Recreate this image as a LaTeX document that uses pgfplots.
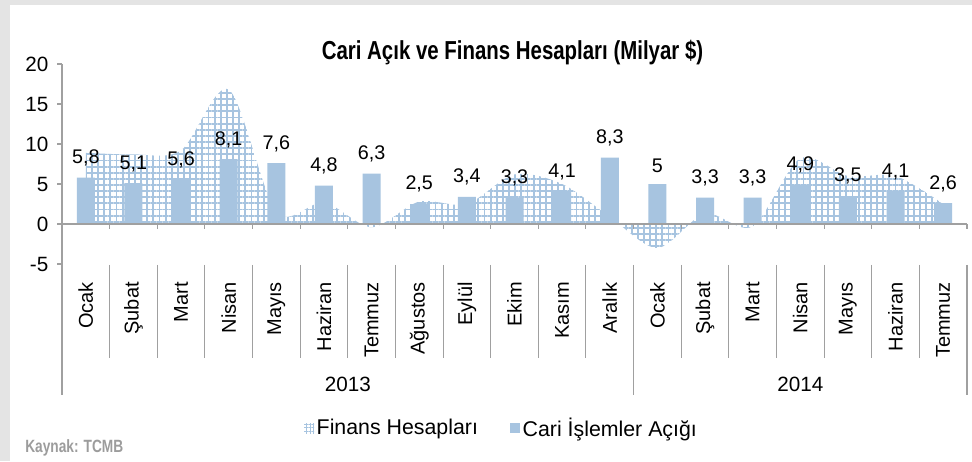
\documentclass[border=0pt]{standalone}
\usepackage{pgfplots}
\pgfplotsset{compat=1.18}
\usepackage{pgfplotstable}
\usepackage{graphicx}
\usepackage{fontspec}
\setmainfont{Liberation Sans}
\usetikzlibrary{patterns.meta}
\definecolor{barblue}{HTML}{A7C4E0}
\definecolor{axisgray}{HTML}{A0A0A0}
\definecolor{framegray}{HTML}{E4E4E4}
\definecolor{srcgray}{HTML}{9C9C9C}

\pgfplotstableread{
x y lab
0 5.8 5,8
1 5.1 5,1
2 5.6 5,6
3 8.1 8,1
4 7.6 7,6
5 4.8 4,8
6 6.3 6,3
7 2.5 2,5
8 3.4 3,4
9 3.3 3,3
10 4.1 4,1
11 8.3 8,3
12 5.0 5
13 3.3 3,3
14 3.3 3,3
15 4.9 4,9
16 3.5 3,5
17 4.1 4,1
18 2.6 2,6
}\bardata

\pgfplotstableread{
x y
0 8.9
1 8.7
2 9.2
3 16.8
4 1.5
5 2.7
6 -0.4
7 2.8
8 2.5
9 6.2
10 5.0
11 0.9
12 -3.0
13 1.3
14 -0.3
15 8.2
16 6.0
17 6.0
18 2.5
}\findata

\begin{document}
\begin{tikzpicture}
\fill[white] (0,0) rectangle (729pt,345.75pt);
\fill[framegray] (0,0) rectangle (7.5pt,345.75pt);
\fill[framegray] (0,342pt) rectangle (729pt,345.75pt);
\begin{axis}[
  at={(46.5pt,147.75pt)}, anchor=south west,
  scale only axis, width=678.75pt, height=150pt,
  xmin=-0.5, xmax=18.5, ymin=-5, ymax=20,
  axis line style={draw=none},
  clip=false,
  ytick={-5,0,5,10,15,20},
  yticklabels={-5,0,5,10,15,20},
  ytick pos=left,
  ytick style={axisgray, line width=0.8pt},
  tick align=outside,
  major tick length=3.75pt,
  yticklabel style={font=\fontsize{15.5}{18}\selectfont},
  yticklabel shift=3pt,
  xtick={0,...,18},
  xtick pos=bottom,
  xtick style={draw=none},
  xticklabels={Ocak,Şubat,Mart,Nisan,Mayıs,Haziran,Temmuz,Ağustos,Eylül,Ekim,Kasım,Aralık,Ocak,Şubat,Mart,Nisan,Mayıs,Haziran,Temmuz},
  xticklabel style={rotate=90, anchor=east, inner sep=0pt, font=\fontsize{15}{18}\selectfont},
  xticklabel shift=9.75pt,
  legend style={at={(0.486,-0.82)}, anchor=center, draw=none, fill=none,
    legend columns=2, font=\fontsize{16}{19}\selectfont,
    /tikz/every even column/.append style={column sep=22pt}},
]
\addplot[draw=none, pattern={Hatch[angle=0,distance=4.6pt,line width=1.4pt]}, pattern color=barblue, smooth,
  legend image code/.code={\fill[pattern={Hatch[angle=0,distance=2.5pt,line width=0.6pt]}, pattern color=barblue] (0pt,-3.75pt) rectangle (7.5pt,3.75pt);}]
  table[x=x,y=y]{\findata} \closedcycle;
\addlegendentry{Finans Hesapları}
\addplot[ybar, bar width=13.5pt, fill=barblue, draw=none,
  nodes near coords, point meta=explicit symbolic,
  every node near coord/.append style={inner sep=0pt, yshift=8.5pt, font=\fontsize{14.8}{17}\selectfont, text=black},
  legend image code/.code={\fill[barblue] (0pt,-3.75pt) rectangle (7.5pt,3.75pt);}]
  table[x=x,y=y,meta=lab]{\bardata};
\addlegendentry{Cari İşlemler Açığı}
\draw[axisgray, line width=0.8pt] (axis cs:-0.5,0) -- (axis cs:18.5,0);
\draw[axisgray, line width=0.8pt] (axis cs:-0.5,20) -- (axis cs:-0.5,-21.375);
\pgfplotsinvokeforeach{0.5,1.5,...,18.5}{
  \draw[axisgray, line width=0.8pt] (axis cs:#1,0) -- (axis cs:#1,-0.625);
  \draw[axisgray, line width=0.8pt] (axis cs:#1,-5.1) -- (axis cs:#1,-16.75);
}
\draw[axisgray, line width=0.8pt] (axis cs:11.5,-16.75) -- (axis cs:11.5,-21.375);
\draw[axisgray, line width=0.8pt] (axis cs:18.5,-16.75) -- (axis cs:18.5,-21.375);
\node[anchor=base, inner sep=0pt, font=\fontsize{15.5}{18}\selectfont] at (axis cs:5.5,-20.875) {2013};
\node[anchor=base, inner sep=0pt, font=\fontsize{15.5}{18}\selectfont] at (axis cs:15,-20.875) {2014};
\end{axis}
\node[anchor=base, inner sep=0pt] at (384.4pt,301.3pt) {\resizebox{286pt}{\height}{\fontsize{19.5}{22}\selectfont\bfseries Cari Açık ve Finans Hesapları (Milyar \$)}};
\node[anchor=base west, inner sep=0pt, text=srcgray] at (18.75pt,6.2pt) {\resizebox{73.5pt}{\height}{\fontsize{13.3}{15}\selectfont\bfseries Kaynak: TCMB}};
\pgfresetboundingbox
\useasboundingbox (0,0) rectangle (729pt,345.75pt);
\end{tikzpicture}
\end{document}
